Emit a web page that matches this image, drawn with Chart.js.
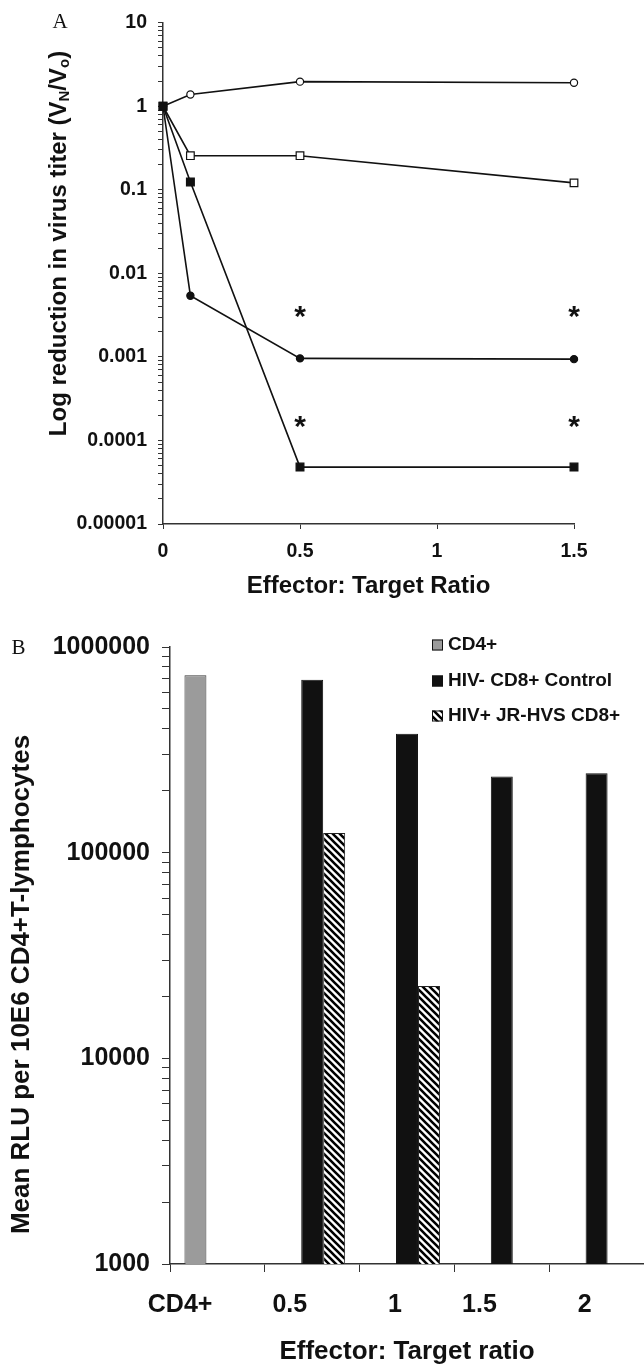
<!DOCTYPE html>
<html><head><meta charset="utf-8">
<script src="https://cdn.jsdelivr.net/npm/chart.js@4.4.1/dist/chart.umd.min.js"></script>
<style>
html,body{margin:0;padding:0;background:#fff;}
body{width:644px;height:1367px;position:relative;overflow:hidden;}
#ca{position:absolute;left:0;top:0;}
#cb{position:absolute;left:0;top:620px;}
</style></head><body>
<canvas id="ca" width="644" height="620"></canvas>
<canvas id="cb" width="644" height="747"></canvas>
<script>
// ---------- Panel A data ----------
const ratiosA = [0, 0.1, 0.5, 1.5];
const openCircle   = [1, 1.38, 1.97, 1.91];
const openSquare   = [1, 0.256, 0.256, 0.121];
const filledCircle = [1, 0.0054, 0.00096, 0.00094];
const filledSquare = [1, 0.124, 0.000048, 0.000048];
const starX = [0.5, 1.5, 0.5, 1.5];
const starY = [0.0037, 0.0037, 0.00018, 0.00018];
const xTicksA = [0, 0.5, 1, 1.5];
const yTickLabelsA = ['0.00001', '0.0001', '0.001', '0.01', '0.1', '1', '10'];

// ---------- Panel B data ----------
const categoriesB = ['CD4+', '0.5', '1', '1.5', '2'];
const cd4Values     = [729000, null, null, null, null];
const controlValues = [null, 694000, 379000, 234500, 243300];
const jrhvsValues   = [null, 124600, 22500, null, null];
const seriesNamesB = ['CD4+', 'HIV- CD8+ Control', 'HIV+ JR-HVS CD8+'];
const yTickLabelsB = ['1000', '10000', '100000', '1000000'];

const FAM = "'Liberation Sans', Arial, sans-serif";
const SERIF = "'Liberation Serif', 'Times New Roman', serif";
const AXIS = '#333';
const INK = '#111';
Chart.defaults.font.family = FAM;
Chart.defaults.color = INK;

function logTickValues(minExp, maxExp) {
  const t = [];
  for (let e = minExp; e < maxExp; e++) {
    for (let m = 1; m < 10; m++) t.push({ value: m * Math.pow(10, e) });
  }
  t.push({ value: Math.pow(10, maxExp) });
  return t;
}
function decadeLabel(labels, minExp) {
  return function (v) {
    const e = Math.log10(v), r = Math.round(e);
    return Math.abs(e - r) < 1e-6 ? labels[r - minExp] : '';
  };
}
function drawRotated(ctx, cx, cy, parts) {
  ctx.save();
  ctx.translate(cx, cy);
  ctx.rotate(-Math.PI / 2);
  ctx.textBaseline = 'middle';
  ctx.textAlign = 'left';
  ctx.fillStyle = INK;
  let total = 0;
  parts.forEach(p => { ctx.font = 'bold ' + p.size + 'px ' + FAM; p.w = ctx.measureText(p.t).width; total += p.w; });
  let x = -total / 2;
  parts.forEach(p => { ctx.font = 'bold ' + p.size + 'px ' + FAM; ctx.fillText(p.t, x, p.dy || 0); x += p.w; });
  ctx.restore();
}
function hatch() {
  const n = 7;
  const c = document.createElement('canvas');
  c.width = n; c.height = n;
  const g = c.getContext('2d');
  g.fillStyle = '#fff'; g.fillRect(0, 0, n, n);
  g.strokeStyle = '#000'; g.lineWidth = 2.6;
  g.beginPath();
  g.moveTo(-2, -2); g.lineTo(n + 2, n + 2);
  g.moveTo(-2, n - 2); g.lineTo(2, n + 2);
  g.moveTo(n - 2, -2); g.lineTo(n + 2, 2);
  g.stroke();
  return g.createPattern(c, 'repeat');
}
function lineSet(label, vals, style, r, fill) {
  return {
    label, data: ratiosA.map((x, i) => ({ x, y: vals[i] })),
    borderColor: INK, borderWidth: 1.6, tension: 0, clip: false,
    pointStyle: style, pointRadius: r, pointHoverRadius: r,
    pointBackgroundColor: fill, pointBorderColor: INK, pointBorderWidth: 1.2
  };
}
const axisGrid = (tl) => ({ drawOnChartArea: false, drawTicks: true, tickLength: tl, color: AXIS, lineWidth: 1 });
const axisBorder = { color: AXIS, width: 1.5 };

// ---------- Panel A ----------
const annotA = {
  id: 'annotA',
  afterDatasetsDraw(chart) {
    const { ctx, scales: { x, y } } = chart;
    ctx.save();
    ctx.fillStyle = INK;
    ctx.font = 'bold 30px ' + FAM;
    ctx.textAlign = 'center';
    ctx.textBaseline = 'alphabetic';
    starX.forEach((sx, i) => {
      ctx.fillText('*', x.getPixelForValue(sx), y.getPixelForValue(starY[i]) + 0.56 * 30);
    });
    ctx.restore();
  },
  afterDraw(chart) {
    const ctx = chart.ctx;
    drawRotated(ctx, 59.5, 243.5, [
      { t: 'Log reduction in virus titer (V', size: 24 },
      { t: 'N', size: 15, dy: 5 },
      { t: '/V', size: 24 },
      { t: 'o', size: 15, dy: 5 },
      { t: ')', size: 24 }
    ]);
    ctx.save();
    ctx.fillStyle = INK;
    ctx.font = '21px ' + SERIF;
    ctx.textAlign = 'center';
    ctx.textBaseline = 'middle';
    ctx.fillText('A', 60, 22);
    ctx.restore();
  }
};

new Chart(document.getElementById('ca'), {
  type: 'line',
  data: {
    datasets: [
      lineSet('Filled square', filledSquare, 'rect', 5.5, INK),
      lineSet('Filled circle', filledCircle, 'circle', 3.6, INK),
      lineSet('Open square', openSquare, 'rect', 5.4, '#fff'),
      lineSet('Open circle', openCircle, 'circle', 3.6, '#fff')
    ]
  },
  options: {
    responsive: false, animation: false,
    layout: { padding: { top: 20, right: 70, left: 0, bottom: 0 } },
    plugins: { legend: { display: false }, tooltip: { enabled: false } },
    scales: {
      x: {
        type: 'linear', min: 0, max: 1.5,
        afterFit: s => { s.height = 96; },
        afterBuildTicks: s => { s.ticks = xTicksA.map(v => ({ value: v })); },
        ticks: { padding: 11, font: { size: 19.5, weight: 'bold' }, color: INK, callback: v => String(v) },
        grid: axisGrid(5), border: axisBorder,
        title: { display: true, text: 'Effector: Target Ratio', color: INK,
                 font: { size: 24, weight: 'bold' }, padding: { top: 0, bottom: 19 } }
      },
      y: {
        type: 'logarithmic', min: 1e-5, max: 10,
        afterFit: s => { s.width = 163; },
        afterBuildTicks: s => { s.ticks = logTickValues(-5, 1); },
        ticks: { autoSkip: false, padding: 11, font: { size: 19.5, weight: 'bold' }, color: INK,
                 callback: decadeLabel(yTickLabelsA, -5) },
        grid: axisGrid(5), border: axisBorder
      }
    }
  },
  plugins: [annotA]
});

// ---------- Panel B ----------
const hatchFill = hatch();
const annotB = {
  id: 'annotB',
  afterDraw(chart) {
    const ctx = chart.ctx;
    drawRotated(ctx, 21.7, 364.5, [{ t: 'Mean RLU per 10E6 CD4+T-lymphocytes', size: 26 }]);
    // legend
    const rows = [25, 61, 96];
    ctx.save();
    chart.data.datasets.forEach((ds, i) => {
      const cy = rows[i];
      ctx.fillStyle = ds.backgroundColor;
      ctx.fillRect(432, cy - 5.5, 11, 11);
      ctx.strokeStyle = INK; ctx.lineWidth = 1;
      ctx.strokeRect(432.5, cy - 5, 10, 10);
      ctx.fillStyle = INK;
      ctx.font = 'bold 19px ' + FAM;
      ctx.textAlign = 'left'; ctx.textBaseline = 'middle';
      ctx.fillText(ds.label, 448, cy);
    });
    ctx.font = '21px ' + SERIF;
    ctx.textAlign = 'center'; ctx.textBaseline = 'middle';
    ctx.fillText('B', 18.5, 28);
    ctx.restore();
  }
};

new Chart(document.getElementById('cb'), {
  type: 'bar',
  data: {
    labels: categoriesB,
    datasets: [
      { label: seriesNamesB[0], data: cd4Values, backgroundColor: '#9b9b9b', borderColor: '#3a3a3a', borderWidth: 1 },
      { label: seriesNamesB[1], data: controlValues, backgroundColor: '#111', borderColor: '#111', borderWidth: 1 },
      { label: seriesNamesB[2], data: jrhvsValues, backgroundColor: hatchFill, borderColor: '#222', borderWidth: 1 }
    ]
  },
  options: {
    responsive: false, animation: false,
    datasets: { bar: { categoryPercentage: 0.695, barPercentage: 1 } },
    layout: { padding: { top: 25, right: 0, left: 0, bottom: 0 } },
    plugins: { legend: { display: false }, tooltip: { enabled: false } },
    scales: {
      x: {
        afterFit: s => { s.height = 103; },
        ticks: { align: 'end', labelOffset: -5, padding: 18, font: { size: 25, weight: 'bold' }, color: INK },
        grid: Object.assign(axisGrid(8), { offset: true }), border: axisBorder,
        title: { display: true, text: 'Effector: Target ratio', color: INK,
                 font: { size: 26, weight: 'bold' }, padding: { top: 0, bottom: 0 } }
      },
      y: {
        type: 'logarithmic', min: 1000, max: 1000000,
        afterFit: s => { s.width = 170; },
        afterBuildTicks: s => { s.ticks = logTickValues(3, 6); },
        ticks: { autoSkip: false, padding: 12, font: { size: 25, weight: 'bold' }, color: INK,
                 callback: decadeLabel(yTickLabelsB, 3) },
        grid: axisGrid(8), border: axisBorder
      }
    }
  },
  plugins: [annotB]
});
</script>
</body></html>
